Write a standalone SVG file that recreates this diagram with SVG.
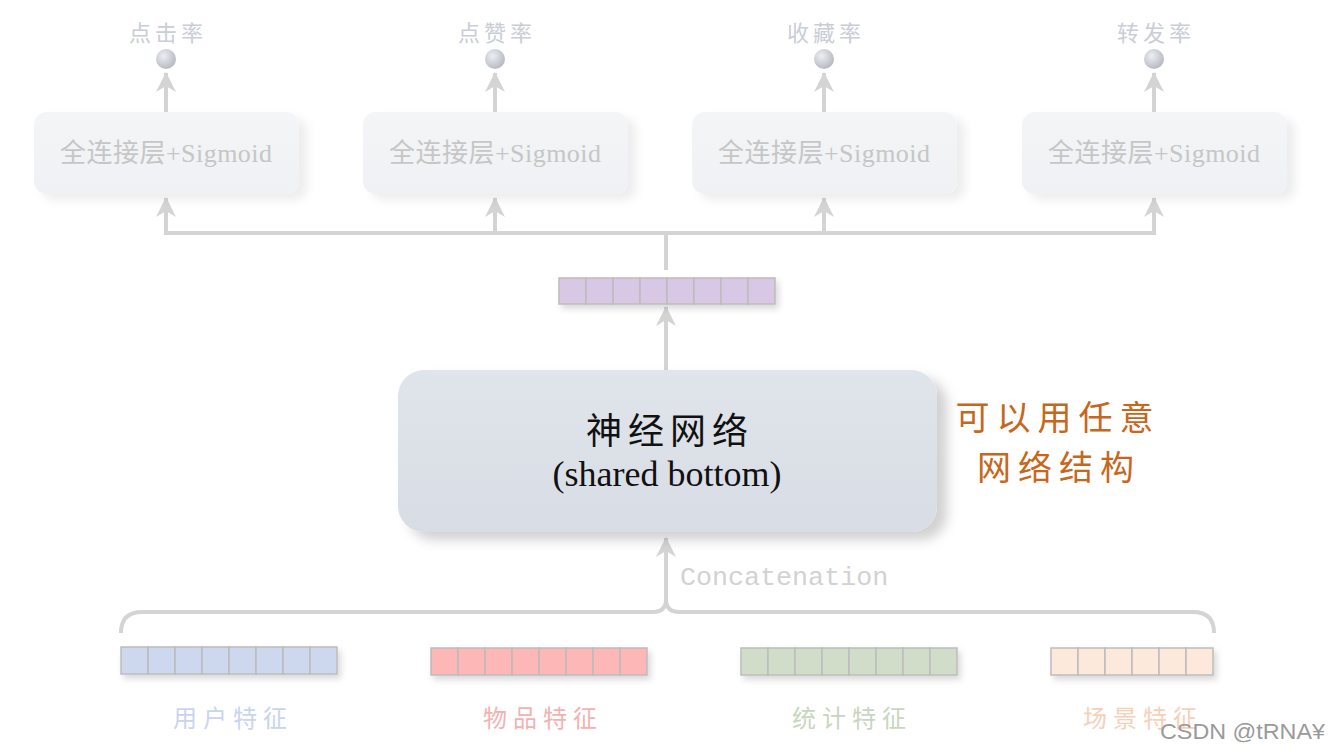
<svg xmlns="http://www.w3.org/2000/svg" width="1330" height="752" viewBox="0 0 1330 752">
<style>
.cjk{font-family:"Noto Sans CJK SC",sans-serif}
.lbl{font-family:"Noto Sans CJK SC",sans-serif;font-size:22px;fill:#c9cdd6;letter-spacing:4px;text-anchor:middle}
.fc{font-family:"Liberation Serif","Noto Sans CJK SC",serif;font-size:26px;fill:#c6c6c6;text-anchor:middle}
.conn{stroke:#d4d4d4;stroke-width:4;fill:none}
.cell{stroke:#bcbcbc;stroke-width:1.5}
.tbox{fill:url(#tg);filter:url(#sh1)}
.flab{font-family:"Noto Sans CJK SC",sans-serif;font-size:24px;letter-spacing:6px;text-anchor:middle}
</style>
<defs>
<linearGradient id="tg" x1="0" y1="0" x2="0" y2="1"><stop offset="0" stop-color="#f4f5f7"/><stop offset="1" stop-color="#eff1f4"/></linearGradient>
<linearGradient id="mg" x1="0" y1="0" x2="0" y2="1"><stop offset="0" stop-color="#e0e4eb"/><stop offset="1" stop-color="#d8dde5"/></linearGradient>
<radialGradient id="ball" cx="0.38" cy="0.35" r="0.7"><stop offset="0" stop-color="#eceef2"/><stop offset="1" stop-color="#b3b7bf"/></radialGradient>
<filter id="sh1" x="-10%" y="-10%" width="130%" height="140%"><feDropShadow dx="8" dy="6" stdDeviation="5" flood-color="#000" flood-opacity="0.07"/></filter>
<filter id="sh2" x="-10%" y="-10%" width="130%" height="140%"><feDropShadow dx="10" dy="8" stdDeviation="6" flood-color="#000" flood-opacity="0.18"/></filter>
<filter id="sh3" x="-10%" y="-30%" width="120%" height="190%"><feDropShadow dx="3" dy="4" stdDeviation="3" flood-color="#000" flood-opacity="0.15"/></filter>
<marker id="ah" viewBox="0 0 20 20" markerWidth="20" markerHeight="20" refX="19" refY="10" orient="auto" markerUnits="userSpaceOnUse"><path d="M0,0 L20,10 L0,20 L6,10 Z" fill="#d4d4d4"/></marker>
</defs>
<rect width="1330" height="752" fill="#fff"/>

<g id="connectors">
<line class="conn" x1="166" y1="112" x2="166" y2="73" marker-end="url(#ah)"/>
<line class="conn" x1="495" y1="112" x2="495" y2="73" marker-end="url(#ah)"/>
<line class="conn" x1="824" y1="112" x2="824" y2="73" marker-end="url(#ah)"/>
<line class="conn" x1="1154" y1="112" x2="1154" y2="73" marker-end="url(#ah)"/>
<path class="conn" d="M166,233 L1154,233"/>
<line class="conn" x1="166" y1="235" x2="166" y2="198" marker-end="url(#ah)"/>
<line class="conn" x1="495" y1="235" x2="495" y2="198" marker-end="url(#ah)"/>
<line class="conn" x1="824" y1="235" x2="824" y2="198" marker-end="url(#ah)"/>
<line class="conn" x1="1154" y1="235" x2="1154" y2="198" marker-end="url(#ah)"/>
<line class="conn" x1="666" y1="233" x2="666" y2="270"/>
<line class="conn" x1="666" y1="370" x2="666" y2="307" marker-end="url(#ah)"/>
<path class="conn" d="M121,633 Q121,612 142,612 L653,612 Q666,612 666,599 Q666,612 679,612 L1193,612 Q1214,612 1214,633"/>
<line class="conn" x1="666" y1="602" x2="666" y2="538" marker-end="url(#ah)"/>
<text x="680" y="585" font-family="Liberation Mono,monospace" font-size="26.7" fill="#d2d2d2">Concatenation</text>
</g>

<g id="out1"><text class="lbl" x="168" y="41">点击率</text><circle cx="166" cy="59" r="10" fill="url(#ball)"/></g>
<g id="out2"><text class="lbl" x="497" y="41">点赞率</text><circle cx="495" cy="59" r="10" fill="url(#ball)"/></g>
<g id="out3"><text class="lbl" x="826" y="41">收藏率</text><circle cx="824" cy="59" r="10" fill="url(#ball)"/></g>
<g id="out4"><text class="lbl" x="1156" y="41">转发率</text><circle cx="1154" cy="59" r="10" fill="url(#ball)"/></g>

<g id="fc1"><rect class="tbox" x="34" y="112" width="265" height="82" rx="13"/><text class="fc" x="166" y="162" textLength="212" lengthAdjust="spacing">全连接层+Sigmoid</text></g>
<g id="fc2"><rect class="tbox" x="363" y="112" width="265" height="82" rx="13"/><text class="fc" x="495" y="162" textLength="212" lengthAdjust="spacing">全连接层+Sigmoid</text></g>
<g id="fc3"><rect class="tbox" x="692" y="112" width="265" height="82" rx="13"/><text class="fc" x="824" y="162" textLength="212" lengthAdjust="spacing">全连接层+Sigmoid</text></g>
<g id="fc4"><rect class="tbox" x="1022" y="112" width="265" height="82" rx="13"/><text class="fc" x="1154" y="162" textLength="212" lengthAdjust="spacing">全连接层+Sigmoid</text></g>

<g id="shared-vec" filter="url(#sh3)">
<g class="cell" fill="#d9c8e5">
<rect x="559" y="278" width="27" height="26"/><rect x="586" y="278" width="27" height="26"/><rect x="613" y="278" width="27" height="26"/><rect x="640" y="278" width="27" height="26"/><rect x="667" y="278" width="27" height="26"/><rect x="694" y="278" width="27" height="26"/><rect x="721" y="278" width="27" height="26"/><rect x="748" y="278" width="27" height="26"/>
</g></g>

<g id="shared-bottom">
<rect x="398" y="370" width="539" height="162" rx="26" fill="url(#mg)" filter="url(#sh2)"/>
<text x="670" y="444" class="cjk" font-size="36" fill="#111" text-anchor="middle" letter-spacing="6">神经网络</text>
<text x="667" y="486" font-family="Liberation Serif,serif" font-size="36" fill="#111" text-anchor="middle">(shared bottom)</text>
</g>

<g id="note">
<text x="1058" y="430" class="cjk" font-size="34" fill="#c8661c" text-anchor="middle" letter-spacing="7">可以用任意</text>
<text x="1059" y="480" class="cjk" font-size="34" fill="#c8661c" text-anchor="middle" letter-spacing="7">网络结构</text>
</g>

<g id="user-feat">
<g filter="url(#sh3)" class="cell" fill="#cdd7ee">
<rect x="121" y="647" width="27" height="27"/><rect x="148" y="647" width="27" height="27"/><rect x="175" y="647" width="27" height="27"/><rect x="202" y="647" width="27" height="27"/><rect x="229" y="647" width="27" height="27"/><rect x="256" y="647" width="27" height="27"/><rect x="283" y="647" width="27" height="27"/><rect x="310" y="647" width="27" height="27"/>
</g>
<text class="flab" x="233" y="727" fill="#c9d4ef">用户特征</text>
</g>

<g id="item-feat">
<g filter="url(#sh3)" class="cell" fill="#fdb7b7">
<rect x="431" y="648" width="27" height="27"/><rect x="458" y="648" width="27" height="27"/><rect x="485" y="648" width="27" height="27"/><rect x="512" y="648" width="27" height="27"/><rect x="539" y="648" width="27" height="27"/><rect x="566" y="648" width="27" height="27"/><rect x="593" y="648" width="27" height="27"/><rect x="620" y="648" width="27" height="27"/>
</g>
<text class="flab" x="543" y="727" fill="#f2b2b2">物品特征</text>
</g>

<g id="stat-feat">
<g filter="url(#sh3)" class="cell" fill="#d2ddc9">
<rect x="741" y="648" width="27" height="27"/><rect x="768" y="648" width="27" height="27"/><rect x="795" y="648" width="27" height="27"/><rect x="822" y="648" width="27" height="27"/><rect x="849" y="648" width="27" height="27"/><rect x="876" y="648" width="27" height="27"/><rect x="903" y="648" width="27" height="27"/><rect x="930" y="648" width="27" height="27"/>
</g>
<text class="flab" x="852" y="727" fill="#c8d6bf">统计特征</text>
</g>

<g id="scene-feat">
<g filter="url(#sh3)" class="cell" fill="#fde8dc">
<rect x="1051" y="648" width="27" height="27"/><rect x="1078" y="648" width="27" height="27"/><rect x="1105" y="648" width="27" height="27"/><rect x="1132" y="648" width="27" height="27"/><rect x="1159" y="648" width="27" height="27"/><rect x="1186" y="648" width="27" height="27"/>
</g>
<text class="flab" x="1143" y="727" fill="#f7d0b8">场景特征</text>
</g>

<text x="1160" y="739" font-family="Liberation Sans,sans-serif" font-size="22" fill="#9a9a9a" textLength="165" lengthAdjust="spacingAndGlyphs">CSDN @tRNA¥</text>
</svg>
